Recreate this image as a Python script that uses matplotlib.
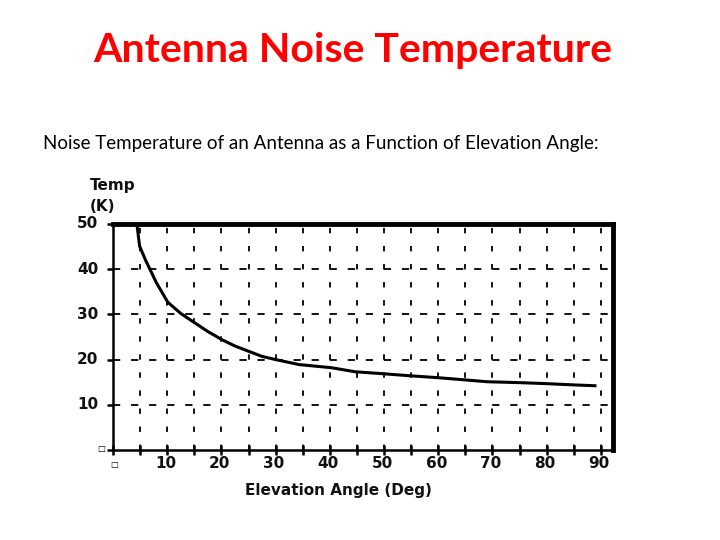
import matplotlib
matplotlib.use('Agg')
import matplotlib.pyplot as plt
import numpy as np

# values
angle_deg = [4.4, 4.9, 6.0, 6.8, 8.0, 10.1, 12.5, 15.0, 17.5, 20.1, 22.5, 25.1,
             27.5, 30.0, 34.3, 40.3, 44.7, 49.5, 55.0, 59.9, 65.0, 69.0,
             75.0, 79.5, 85.0, 89.2]
temp_k = [50.0, 45.1, 42.0, 40.0, 37.0, 32.7, 30.2, 28.2, 26.2, 24.4, 23.0, 21.8,
          20.7, 20.0, 18.9, 18.2, 17.3, 16.9, 16.4, 16.0, 15.5, 15.1,
          14.9, 14.7, 14.4, 14.2]

x_ticks = [10, 20, 30, 40, 50, 60, 70, 80, 90]
y_ticks = [10, 20, 30, 40, 50]

fig = plt.figure(figsize=(7.2, 5.4), dpi=100)
fig.patch.set_facecolor('white')

fig.text(0.49, 0.907, 'Antenna Noise Temperature', color='#ff0000',
         fontsize=29.5, fontweight='bold', family='Lato', ha='center', va='center')
fig.text(0.06, 0.735, 'Noise Temperature of an Antenna as a Function of Elevation Angle:',
         fontsize=13.5, family='Lato', ha='left', va='center')

ax = fig.add_axes([0.157, 0.1667, 0.694, 0.4185])
ax.plot(angle_deg, temp_k, color='black', linewidth=2.2, solid_capstyle='butt',
        clip_on=True, zorder=3)

ax.set_xlim(0, 92.2)
ax.set_ylim(0, 50)

# grid: vertical every 5 deg, horizontal every 10 K
for gx in np.arange(5, 95, 5):
    ax.axvline(gx, color='black', linewidth=1.3, linestyle=(0, (3, 7)), zorder=1)
for gy in y_ticks[:-1]:
    ax.axhline(gy, color='black', linewidth=1.3, linestyle=(0, (4, 6)), zorder=1)

ax.spines['left'].set_linewidth(1.8)
ax.spines['bottom'].set_linewidth(1.8)
ax.spines['top'].set_linewidth(3.5)
ax.spines['right'].set_linewidth(3.5)

ax.set_xticks(np.arange(0, 95, 5))
ax.set_xticklabels([''] * 19)
ax.set_yticks([0] + y_ticks)
ax.set_yticklabels([''] * 6)
ax.tick_params(axis='x', direction='inout', length=7, width=1.8)
ax.tick_params(axis='y', direction='out', length=4, width=1.8)

lbl = dict(fontsize=11, fontweight='bold', family='DejaVu Sans', color='#111111')
for t in x_ticks:
    ax.text(t - 0.3, -3.0, str(t), ha='center', va='center', **lbl)
for t in y_ticks:
    ax.text(-2.7, t, str(t), ha='right', va='center', **lbl)
# the zero labels render as small boxes in the original
ax.text(-2.2, 0.4, '\u25a1', ha='center', va='center', fontsize=6)
ax.text(0.3, -3.2, '\u25a1', ha='center', va='center', fontsize=6)

ax.text(-4.3, 58.5, 'Temp', ha='left', va='center', **lbl)
ax.text(-4.3, 53.8, '(K)', ha='left', va='center', **lbl)
ax.text(41.5, -9.0, 'Elevation Angle (Deg)', ha='center', va='center', **lbl)

fig.savefig('out.png', dpi=100, facecolor='white')
